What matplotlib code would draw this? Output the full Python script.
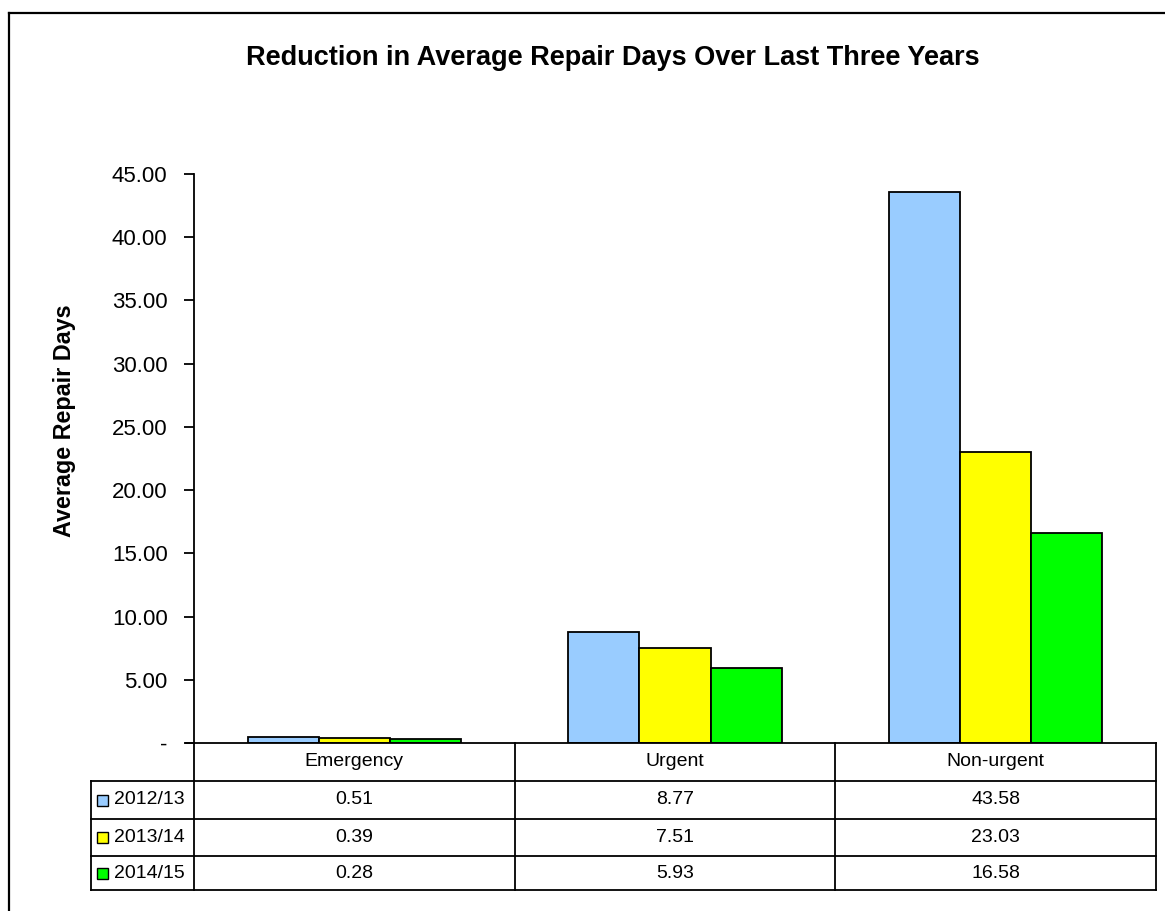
import matplotlib
matplotlib.use("Agg")
import matplotlib.pyplot as plt
from matplotlib.patches import Rectangle
from matplotlib.lines import Line2D
import numpy as np

categories = ["Emergency", "Urgent", "Non-urgent"]
series_names = ["2012/13", "2013/14", "2014/15"]
values_2012 = [0.51, 8.77, 43.58]
values_2013 = [0.39, 7.51, 23.03]
values_2014 = [0.28, 5.93, 16.58]
series_values = [values_2012, values_2013, values_2014]
colors = ["#99CCFF", "#FFFF00", "#00FF00"]
yticks = [0, 5, 10, 15, 20, 25, 30, 35, 40, 45]

plt.rcParams['font.family'] = ['Liberation Sans', 'DejaVu Sans']

W, H = 1165, 911
fig = plt.figure(figsize=(W / 100, H / 100), dpi=100)
fig.patch.set_facecolor("white")

def fx(px):
    return px / W

def fy(py):
    return (H - py) / H

ax_l, ax_r, ax_t, ax_b = 194, 1156, 174, 743
ax = fig.add_axes([fx(ax_l), fy(ax_b), fx(ax_r) - fx(ax_l), fy(ax_t) - fy(ax_b)])
ax.set_xlim(-0.5, len(categories) - 0.5)
ax.set_ylim(0, 45)

n = len(series_values)
bw = 0.222
x = np.arange(len(categories))
for i, (vals, c) in enumerate(zip(series_values, colors)):
    ax.bar(x + (i - (n - 1) / 2) * bw, vals, width=bw, color=c,
           edgecolor="black", linewidth=1.3, zorder=3)

ax.set_yticks(yticks)
ax.set_yticklabels(["-" if v == 0 else f"{v:.2f}" for v in yticks], fontsize=16)
ax.tick_params(axis='y', direction='out', length=7, width=1.3, pad=12)
ax.set_xticks([])
for s in ["top", "right", "bottom"]:
    ax.spines[s].set_visible(False)
ax.spines["left"].set_linewidth(1.3)

# title and y label
fig.text(fx(613), fy(65), "Reduction in Average Repair Days Over Last Three Years",
         ha="center", va="baseline", fontsize=19.5, fontweight="bold")
fig.text(fx(65), fy(421), "Average Repair Days", rotation=90,
         ha="center", va="center", fontsize=16.8, fontweight="bold")

# frame (top and left edges of the chart area)
fig.add_artist(Line2D([fx(9), fx(9)], [fy(13), fy(915)], color="black", lw=1.6))
fig.add_artist(Line2D([fx(9), fx(1170)], [fy(13), fy(13)], color="black", lw=1.6))

# data table
lw = 1.3
col_edges = [ax_l + (ax_r - ax_l) * k / len(categories) for k in range(len(categories) + 1)]
leg_l = 91
row_edges = [743, 781, 819, 856, 890]

# x axis line extending to tick
fig.add_artist(Line2D([fx(186), fx(ax_r)], [fy(743), fy(743)], color="black", lw=lw))
for r in row_edges[1:]:
    fig.add_artist(Line2D([fx(leg_l), fx(ax_r)], [fy(r), fy(r)], color="black", lw=lw))
for cx in col_edges:
    fig.add_artist(Line2D([fx(cx), fx(cx)], [fy(row_edges[0]), fy(row_edges[-1])], color="black", lw=lw))
fig.add_artist(Line2D([fx(leg_l), fx(leg_l)], [fy(row_edges[1]), fy(row_edges[-1])], color="black", lw=lw))

# header texts
for k, cat in enumerate(categories):
    cx = (col_edges[k] + col_edges[k + 1]) / 2
    fig.text(fx(cx), fy((row_edges[0] + row_edges[1]) / 2), cat,
             ha="center", va="center", fontsize=14)

# rows
for i, (name, vals, c) in enumerate(zip(series_names, series_values, colors)):
    cy = (row_edges[i + 1] + row_edges[i + 2]) / 2
    fig.add_artist(Rectangle((fx(97), fy(cy + 5.5)), fx(11), 11 / H,
                             facecolor=c, edgecolor="black", lw=1.0))
    fig.text(fx(114), fy(cy), name, ha="left", va="center", fontsize=14)
    for k, v in enumerate(vals):
        cx = (col_edges[k] + col_edges[k + 1]) / 2
        fig.text(fx(cx), fy(cy), f"{v:.2f}", ha="center", va="center", fontsize=14)

fig.savefig("out.png", dpi=100, facecolor="white")
